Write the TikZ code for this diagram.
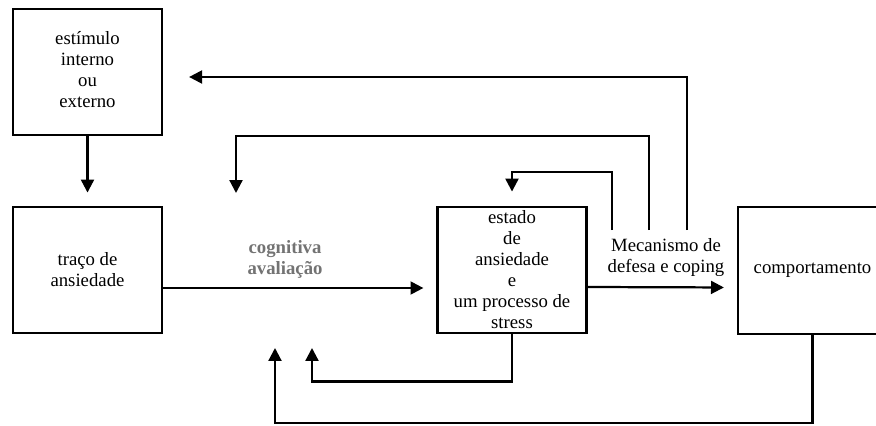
\documentclass[tikz,border=0pt]{standalone}
\usepackage{fontspec}
\setmainfont{Liberation Serif}
\usetikzlibrary{positioning,arrows.meta,calc}

\begin{document}
\begin{tikzpicture}[x=0.03cm,y=-0.03cm,
  box/.style={
    draw,
    line width=1.9pt,
    fill=white,
    inner sep=0pt,
    minimum width=4.47cm,
    minimum height=3.8cm,
    align=center,
    font=\fontsize{16}{17.9}\selectfont
  },
  lbl/.style={
    inner sep=0pt,
    align=center,
    font=\fontsize{16}{17.9}\selectfont
  },
  flow/.style={
    line width=1.9pt,
    -{Triangle[length=11pt,width=11pt]}
  }
]
 \useasboundingbox (0,0) rectangle (876,426);
 \clip (0,0) rectangle (876,426);
  \node[box] (stim) at (87.5,72) {\raisebox{-5pt}{\begin{tabular}{@{}c@{}}estímulo\\interno\\ou\\externo\end{tabular}}};
  \node[box] (trait) at (87.5,270) {traço de\\ansiedade};
  \node[box] (state) at (512,270) {estado\\de\\ansiedade\\e\\um processo de\\stress};
  \node[box] (behav) at (812.5,270.5) {comportamento};
  \node[lbl,text=black!55,font=\fontsize{16}{17.9}\selectfont\bfseries] (appr) at (285,259) {cognitiva\\avaliação};
  \node[lbl] (mech) at (666,258) {Mecanismo de\\defesa e coping};
  % free ends of the feedback loops
  \coordinate (m1) at (612,230);
  \coordinate (m2) at (649,230);
  \coordinate (m3) at (687,230);
  \coordinate (apprtop) at (236,193);
  \coordinate (apprlow) at (312,348);
  \coordinate (apprbot) at (275,348);
  \draw[flow,shorten >=0.39cm] (stim) -- (trait);
  \draw[flow,shorten >=0.39cm] ($(trait.east)+(0,18)$) -- ($(state.west)+(0,18)$);
  \draw[flow,shorten >=0.39cm] ($(state.east)+(0,17)$) -- ($(behav.west)+(0,17)$);
  \draw[flow,shorten >=0.42cm] (m1) -- ++(0,-58) -| (state.north);
  \draw[flow] (m2) -- ++(0,-94) -| (apprtop);
  \draw[flow,shorten >=0.78cm] (m3) |- ($(stim.east)+(0,5)$);
  \draw[flow] (state.south) -- ++(0,47) -| (apprlow);
  \draw[flow] (behav.south) -- ++(0,88) -| (apprbot);
\end{tikzpicture}
\end{document}
